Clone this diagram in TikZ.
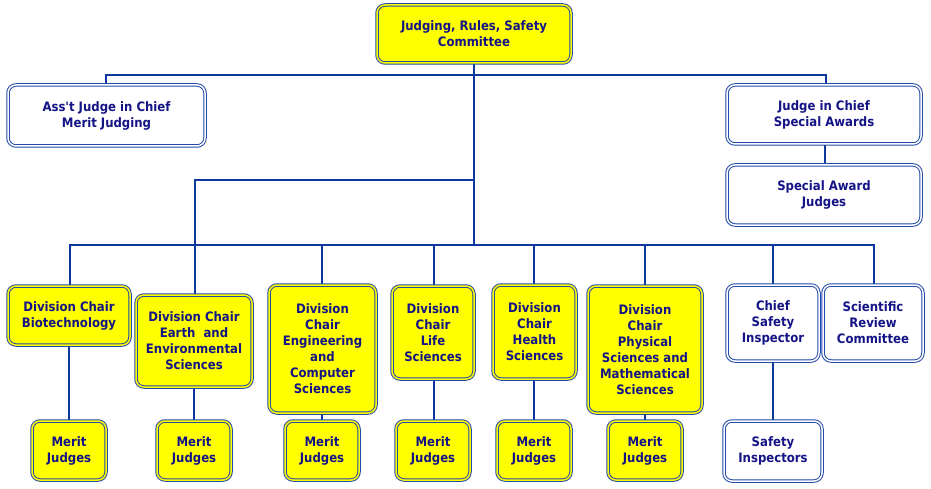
\documentclass[tikz,border=0pt]{standalone}
\usepackage{fontspec}
\newfontfamily\labfont{DejaVu Sans Condensed}[BoldFont={DejaVu Sans Condensed Bold}]
\definecolor{linecol}{RGB}{15,55,160}
\definecolor{boxline}{RGB}{35,75,170}
\definecolor{txtcol}{RGB}{20,20,135}
\definecolor{yel}{RGB}{255,255,0}
\tikzset{
  x=1pt, y=-1pt,
  base/.style={draw=boxline, line width=1pt, double distance=1.5pt, rounded corners=8pt,
    align=center, text=txtcol, font=\labfont\bfseries\fontsize{13}{16}\selectfont, inner sep=0pt},
  ybox/.style={base, double=yel, fill=yel},
  wbox/.style={base, double=white, fill=white},
  conn/.style={draw=linecol, line width=2.6pt},
}
\newcommand{\boxat}[7]{% style, name, x1, y1, x2, y2, text
  \node[#1, minimum width={#5-#3}, minimum height={#6-#4}] (#2) at ({(#3+#5)/2},{(#4+#6)/2}) {#7};}
\begin{document}
\begin{tikzpicture}
\useasboundingbox (0,0) rectangle (931,489);
\fill[white] (0,0) rectangle (931,489);
% connectors
\coordinate (b1l) at (106,75);
\coordinate (b1r) at (826,75);
\coordinate (b2) at (195,180);
\coordinate (b3l) at (70,245);
\coordinate (b3r) at (874,245);
\coordinate (b3c) at (474,245);
\coordinate (b1c) at (474,75);
\coordinate (b2c) at (474,180);
\draw[conn] (474,63) -- (b3c);
\draw[conn] (106,86) -- (b1l) -- (b1r) -- (826,86);
\draw[conn] (b2c) -- (b2) -- (195,296);
\draw[conn] (70,286) -- (b3l) -- (b3r) -- (874,286);
\foreach \x in {322,434,534,645,773} \draw[conn] (\x,245) -- (\x,287);
\draw[conn] (825,144) -- (825,166);
\foreach \x/\t in {69/346,194/387,322/413,434/379,534/379,645/413,773/361} \draw[conn] (\x,\t) -- (\x,421);

% boxes
\boxat{ybox}{top}{377}{5}{571}{63}{Judging, Rules, Safety\\Committee}
\boxat{wbox}{asst}{8}{85}{205}{146}{Ass't Judge in Chief\\Merit Judging}
\boxat{wbox}{jic}{727}{85}{921}{144}{Judge in Chief\\Special Awards}
\boxat{wbox}{saj}{727}{165}{921}{225}{Special Award\\Judges}
\boxat{ybox}{bio}{8}{286}{130}{345}{Division Chair\\Biotechnology}
\boxat{ybox}{earth}{136}{295}{252}{387}{Division Chair\\Earth\ \ and\\Environmental\\Sciences}
\boxat{ybox}{eng}{269}{285}{376}{413}{Division\\Chair\\Engineering\\and\\Computer\\Sciences}
\boxat{ybox}{life}{392}{286}{474}{379}{Division\\Chair\\Life\\Sciences}
\boxat{ybox}{health}{493}{285}{576}{379}{Division\\Chair\\Health\\Sciences}
\boxat{ybox}{phys}{588}{286}{702}{413}{Division\\Chair\\Physical\\Sciences and\\Mathematical\\Sciences}
\boxat{wbox}{csi}{727}{285}{819}{361}{Chief\\Safety\\Inspector}
\boxat{wbox}{src}{823}{285}{923}{361}{Scientific\\Review\\Committee}
\boxat{ybox}{m1}{32}{421}{106}{480}{Merit\\Judges}
\boxat{ybox}{m2}{157}{421}{231}{480}{Merit\\Judges}
\boxat{ybox}{m3}{285}{421}{359}{480}{Merit\\Judges}
\boxat{ybox}{m4}{396}{421}{470}{480}{Merit\\Judges}
\boxat{ybox}{m5}{497}{421}{571}{480}{Merit\\Judges}
\boxat{ybox}{m6}{608}{421}{682}{480}{Merit\\Judges}
\boxat{wbox}{si}{724}{421}{822}{481}{Safety\\Inspectors}
\end{tikzpicture}
\end{document}
